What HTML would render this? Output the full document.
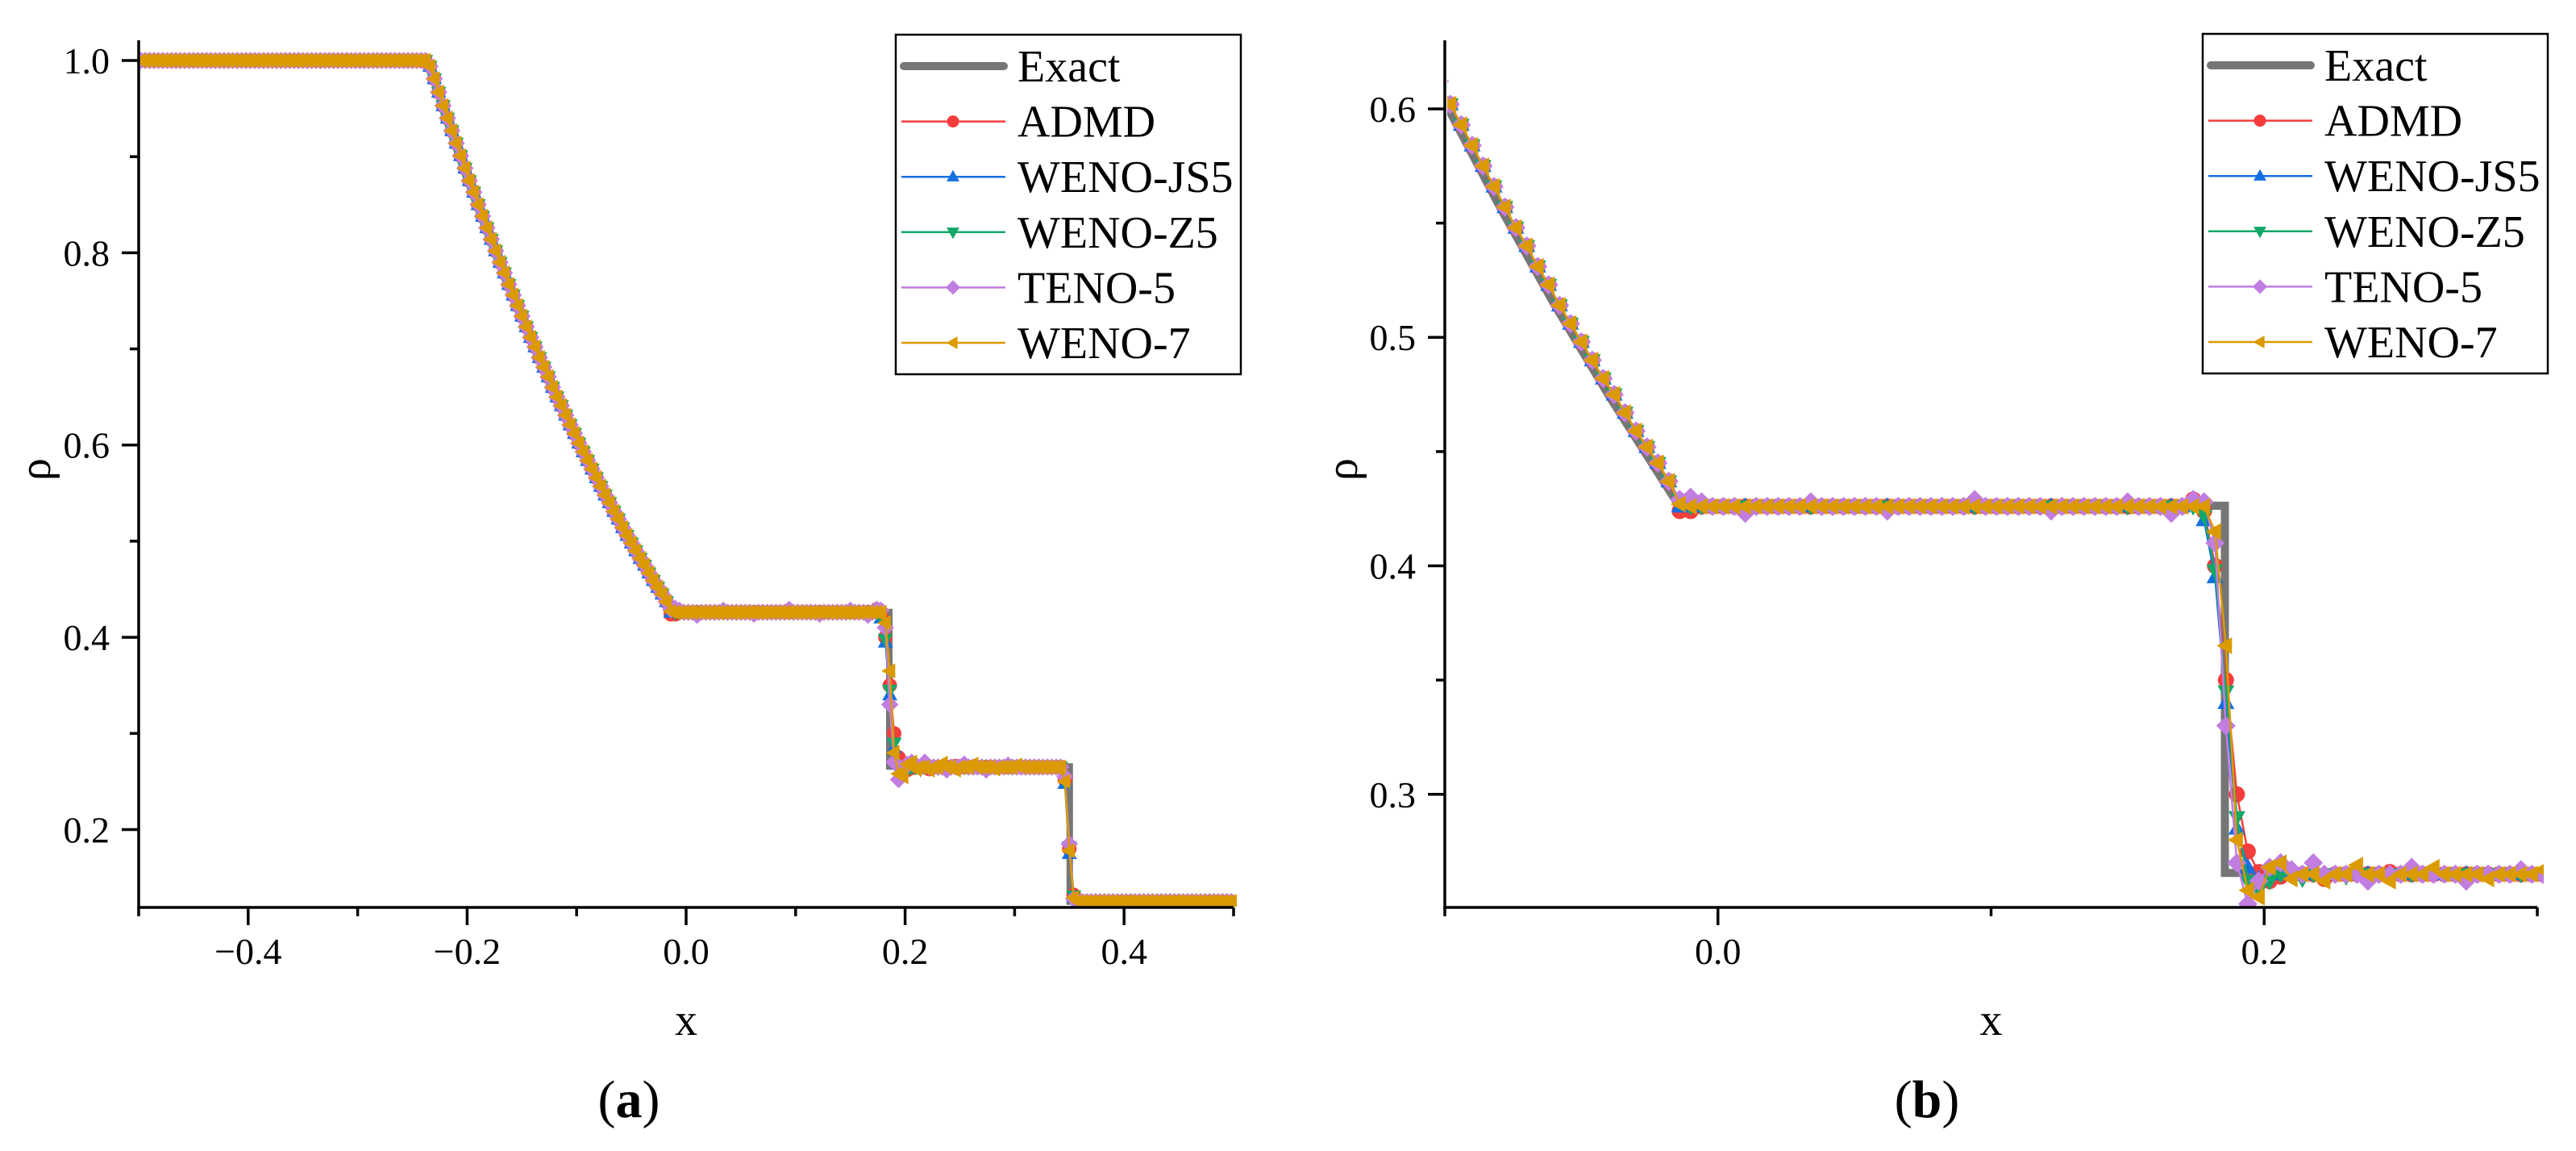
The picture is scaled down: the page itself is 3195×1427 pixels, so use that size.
<!DOCTYPE html>
<html><head><meta charset="utf-8"><style>
html,body{margin:0;padding:0;background:#fff;}
svg{display:block;font-family:"Liberation Serif","DejaVu Serif",serif;}
</style></head><body>
<svg id="fig" width="3195" height="1427" viewBox="0 0 3195 1427" xmlns="http://www.w3.org/2000/svg">
<defs>
<clipPath id="clipA"><rect x="174" y="40" width="1360" height="1084"/></clipPath>
<clipPath id="clipB"><rect x="1795" y="40" width="1360" height="1084"/></clipPath>
</defs>
</svg>
<script>
// ---------- data ----------
const gridStart = -0.498;
const gridStep = 0.004;
const exactX = [-0.5,-0.2366,-0.22,-0.2,-0.18,-0.16,-0.14,-0.12,-0.10,-0.08,-0.06,-0.04,-0.02,-0.0143,0.1856,0.1856,0.3504,0.3504,0.5];
const exactY = [1.0,1.0,0.9429,0.8775,0.8159,0.7577,0.7029,0.6514,0.6030,0.5574,0.5146,0.4746,0.4370,0.4263,0.4263,0.2656,0.2656,0.125,0.125];
const baseRho = [
1,1,1,1,1,1,1,1,1,1, 1,1,1,1,1,1,1,1,1,1, 1,1,1,1,1,1,1,1,1,1,
1,1,1,1,1,1,1,1,1,1, 1,1,1,1,1,1,1,1,1,1, 1,1,1,1,1,1,1,1,1,1, 1,1,1,1,1,1,
0.994,0.981,0.967,0.953,0.940,0.927,0.914,0.901,0.888,0.875,
0.863,0.850,0.838,0.826,0.814,0.802,0.790,0.779,0.767,0.756,
0.745,0.734,0.723,0.712,0.702,0.691,0.681,0.671,0.660,0.650,
0.641,0.631,0.621,0.612,0.602,0.593,0.584,0.575,0.566,0.557,
0.548,0.540,0.531,0.523,0.514,0.506,0.498,0.490,0.482,0.475,
0.467,0.459,0.452,0.445,0.437,
0.429,0.426,0.426,0.426,0.426,0.426,0.426,0.426,0.426,0.426,
0.426,0.426,0.426,0.426,0.426,0.426,0.426,0.426,0.426,0.426,
0.426,0.426,0.426,0.426,0.426,0.426,0.426,0.426,0.426,0.426,
0.426,0.426,0.426,0.426,0.426,0.426,0.426,0.426,0.426,0.426,
0.426,0.426,0.426,0.426,0.426,0.426,0.426,0.426,0.426,0.426,
0.265,0.265,0.265,0.265,0.265,0.265,0.265,0.265,0.265,0.265,
0.265,0.265,0.265,0.265,0.265,0.265,0.265,0.265,0.265,0.265,
0.265,0.265,0.265,0.265,0.265,0.265,0.265,0.265,0.265,0.265,
0.265,0.265,0.265,0.265,0.265,0.265,0.265,0.265,0.265,0.265,0.265,
0.125,0.125,0.125,0.125,0.125,0.125,0.125,0.125,0.125,0.125,
0.125,0.125,0.125,0.125,0.125,0.125,0.125,0.125,0.125,0.125,
0.125,0.125,0.125,0.125,0.125,0.125,0.125,0.125,0.125,0.125,
0.125,0.125,0.125,0.125,0.125,0.125,0.125,0.125
];
const admdOverrides = {121:0.424,122:0.424,168:0.429,169:0.424,170:0.400,171:0.350,172:0.300,173:0.275,174:0.266,175:0.262,176:0.264,180:0.263,186:0.266,211:0.252,212:0.180,213:0.132};
const js5Overrides = {121:0.426,168:0.427,169:0.420,170:0.395,171:0.340,172:0.285,173:0.268,174:0.263,175:0.266,211:0.248,212:0.175,213:0.130};
const z5Overrides = {169:0.422,170:0.398,171:0.345,172:0.290,173:0.262,174:0.258,175:0.262,178:0.263,182:0.264,211:0.250,212:0.182,213:0.131};
const teno5Overrides = {122:0.430,123:0.428,127:0.423,133:0.428,140:0.424,148:0.429,155:0.424,162:0.428,166:0.423,168:0.429,169:0.428,170:0.410,171:0.330,172:0.270,173:0.252,174:0.262,175:0.268,176:0.270,177:0.267,179:0.270,184:0.262,188:0.268,193:0.262,198:0.267,211:0.255,212:0.185,213:0.128};
const weno7Overrides = {121:0.427,169:0.426,170:0.415,171:0.365,172:0.280,173:0.258,174:0.255,175:0.268,176:0.270,177:0.263,180:0.262,183:0.269,186:0.262,190:0.268,195:0.263,200:0.267,211:0.250,212:0.178,213:0.129};
const seriesNames = ["ADMD","WENO-JS5","WENO-Z5","TENO-5","WENO-7"];
const seriesOverrides = [admdOverrides, js5Overrides, z5Overrides, teno5Overrides, weno7Overrides];
const seriesColors = ["#f63d3d","#1470e0","#12a86a","#c17de0","#db9a00"];
const seriesMarkers = ["circle","up","down","diamond","left"];
const xTicksA = [-0.4,-0.2,0.0,0.2,0.4];
const xTickLabelsA = ["\u22120.4","\u22120.2","0.0","0.2","0.4"];
const xMinorA = [-0.5,-0.3,-0.1,0.1,0.3,0.5];
const yTicksA = [0.2,0.4,0.6,0.8,1.0];
const yTickLabelsA = ["0.2","0.4","0.6","0.8","1.0"];
const yMinorA = [0.3,0.5,0.7,0.9];
const xTicksB = [0.0,0.2];
const xTickLabelsB = ["0.0","0.2"];
const xMinorB = [-0.1,0.1,0.3];
const yTicksB = [0.3,0.4,0.5,0.6];
const yTickLabelsB = ["0.3","0.4","0.5","0.6"];
const yMinorB = [0.35,0.45,0.55];

// ---------- drawing ----------
const NS = "http://www.w3.org/2000/svg";
const svg = document.getElementById('fig');
function mk(tag, attrs, parent){
  const e = document.createElementNS(NS, tag);
  for (const k in attrs) e.setAttribute(k, attrs[k]);
  (parent||svg).appendChild(e);
  return e;
}
function seriesY(s){
  const o = seriesOverrides[s];
  return baseRho.map((v,i)=> (o[i]!==undefined ? o[i] : v));
}
function markerPath(type, cx, cy, r){
  if(type==="up") return `M${cx},${cy-r*1.15}L${cx+r*1.05},${cy+r*0.75}L${cx-r*1.05},${cy+r*0.75}Z`;
  if(type==="down") return `M${cx},${cy+r*1.15}L${cx+r*1.05},${cy-r*0.75}L${cx-r*1.05},${cy-r*0.75}Z`;
  if(type==="diamond") return `M${cx},${cy-r*1.2}L${cx+r*1.2},${cy}L${cx},${cy+r*1.2}L${cx-r*1.2},${cy}Z`;
  if(type==="left") return `M${cx-r*1.15},${cy}L${cx+r*0.75},${cy-r*1.05}L${cx+r*0.75},${cy+r*1.05}Z`;
  return null;
}
function drawMarker(g, type, cx, cy, r, color){
  let e;
  if(type==="circle"){ e = mk('circle',{cx:cx,cy:cy,r:r,fill:color},g); }
  else { e = mk('path',{d:markerPath(type,cx,cy,r),fill:color},g); }
  return e;
}

function drawPanel(P){
  const sx = v => P.x0 + (v-P.xmin)/(P.xmax-P.xmin)*(P.x1-P.x0);
  const sy = v => P.y0 - (v-P.ymin)/(P.ymax-P.ymin)*(P.y0-P.y1);
  const g = mk('g',{});
  
  
  const plot = mk('g',{'clip-path':`url(#${P.clip})`},g);
  
  
  let d = exactX.map((x,i)=>(i?'L':'M')+sx(x).toFixed(1)+','+sy(exactY[i]).toFixed(1)).join('');
  const ex = mk('path',{d:d,fill:'none',stroke:'#767676','stroke-width':P.exactW,'stroke-linejoin':'miter'},plot);
  
  
  for(let s=0;s<seriesNames.length;s++){
    const ys = seriesY(s);
    const sg = mk('g',{},plot);
    
    
    const pts = ys.map((y,i)=>[sx(gridStart+gridStep*i), sy(y)]);
    const ln = mk('path',{d:pts.map((p,i)=>(i?'L':'M')+p[0].toFixed(1)+','+p[1].toFixed(1)).join(''),fill:'none',stroke:seriesColors[s],'stroke-width':2.5},sg);
    
    
    pts.forEach(p=>{
      if(p[0]<P.x0-20||p[0]>P.x1+20) return;
      const m = drawMarker(sg, seriesMarkers[s], p[0], p[1], P.mr, seriesColors[s]);
      
      
    });
  }
  const ax = mk('g',{stroke:'#000','stroke-width':3.5,fill:'none'},g);
  
  
  mk('line',{x1:P.x0,y1:P.y1,x2:P.x0,y2:P.y0+1.75},ax);
  mk('line',{x1:P.x0-1.75,y1:P.y0,x2:P.x1,y2:P.y0},ax);
  P.xt.forEach(v=>mk('line',{x1:sx(v),y1:P.y0,x2:sx(v),y2:P.y0+22},ax));
  P.xm.forEach(v=>mk('line',{x1:sx(v),y1:P.y0,x2:sx(v),y2:P.y0+11},ax));
  P.yt.forEach(v=>mk('line',{x1:P.x0,y1:sy(v),x2:P.x0-21,y2:sy(v)},ax));
  P.ym.forEach(v=>mk('line',{x1:P.x0,y1:sy(v),x2:P.x0-11,y2:sy(v)},ax));
  P.xt.forEach((v,i)=>{
    const t = mk('text',{x:sx(v),y:P.y0+70,'text-anchor':'middle','font-size':46,fill:'#000'},g);
    t.textContent = P.xl[i];
    
    
  });
  P.yt.forEach((v,i)=>{
    const t = mk('text',{x:P.x0-36,y:sy(v)+16,'text-anchor':'end','font-size':46,fill:'#000'},g);
    t.textContent = P.yl[i];
    
    
  });
  const xt = mk('text',{x:(P.x0+P.x1)/2,y:1283,'text-anchor':'middle','font-size':56,fill:'#000'},g);
  xt.textContent = 'x';
  
  
  const yt = mk('text',{x:0,y:0,'text-anchor':'middle','font-size':56,fill:'#000',transform:`translate(${P.ytx},582) rotate(-90)`},g);
  yt.textContent = '\u03c1';
  
  
  const cap = mk('text',{x:P.capx,y:1385,'text-anchor':'middle','font-size':66,fill:'#000'},g);
  cap.innerHTML = '(<tspan font-weight="bold">'+P.cap+'</tspan>)';
  
  
  const lg = mk('g',{},g);
  
  
  mk('rect',{x:P.lx,y:P.ly,width:428,height:421,fill:'#fff',stroke:'#000','stroke-width':2.5},lg);
  const names = ["Exact"].concat(seriesNames);
  names.forEach((n,k)=>{
    const ry = P.ly+39+68.6*k;
    const e = mk('g',{},lg);
    
    
    if(k===0){
      mk('line',{x1:P.lx+10,y1:ry,x2:P.lx+134,y2:ry,stroke:'#767676','stroke-width':10,'stroke-linecap':'round'},e);
    } else {
      mk('line',{x1:P.lx+7,y1:ry,x2:P.lx+136,y2:ry,stroke:seriesColors[k-1],'stroke-width':2.5},e);
      drawMarker(e, seriesMarkers[k-1], P.lx+71, ry, 7.5, seriesColors[k-1]);
    }
    const t = mk('text',{x:P.lx+151,y:ry+19,'font-size':56,fill:'#000'},e);
    t.textContent = n;
  });
}

drawPanel({name:'panel-a',clip:'clipA',x0:172,x1:1530,y0:1125,y1:50,xmin:-0.5,xmax:0.5,ymin:0.119,ymax:1.021,
  xt:xTicksA,xl:xTickLabelsA,xm:xMinorA,yt:yTicksA,yl:yTickLabelsA,ym:yMinorA,exactW:8,mr:9,
  ytx:62,capx:780,cap:'a',lx:1111,ly:43});
drawPanel({name:'panel-b',clip:'clipB',x0:1792,x1:3147,y0:1125,y1:50,xmin:-0.1,xmax:0.3,ymin:0.2505,ymax:0.630,
  xt:xTicksB,xl:xTickLabelsB,xm:xMinorB,yt:yTicksB,yl:yTickLabelsB,ym:yMinorB,exactW:10,mr:10,
  ytx:1683,capx:2390,cap:'b',lx:2732,ly:42});
</script>
</body></html>
